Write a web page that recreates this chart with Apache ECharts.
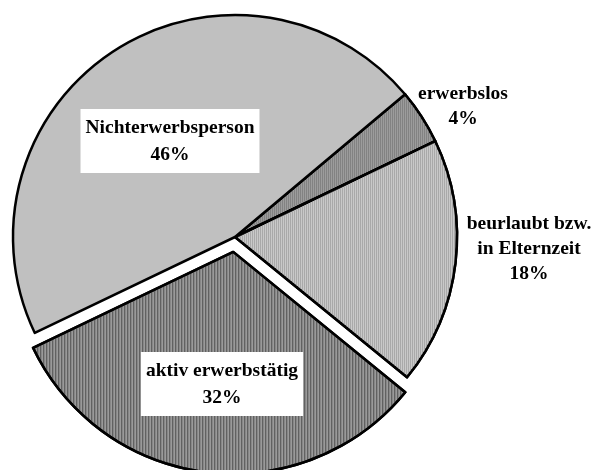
<!DOCTYPE html>
<html>
<head>
<meta charset="utf-8">
<script src="https://cdn.jsdelivr.net/npm/echarts@6/dist/echarts.min.js"></script>
<style>
  html, body { margin: 0; padding: 0; background: #fff; }
  #chart { width: 592px; height: 470px; }
</style>
</head>
<body>
<div id="chart"></div>
<script>
// slices in clockwise order, starting at the upper right
const categories = ["erwerbslos", "beurlaubt bzw.\nin Elternzeit", "aktiv erwerbstätig", "Nichterwerbsperson"];
const shares = [4, 18, 32, 46];

// look of each slice (same order as above)
const fills = ["#9c9c9c", "#c9c9c9", "#9a9a9a", "#c0c0c0"];
const stripes = ["#828282", "#a9a9a9", "#4e4e4e", null];
const stripeGap = [1, 1, 2, 0];
// label block centres and whether the label sits in a white box
const labelPos = [[463, 106], [529, 249], [222, 384], [170, 141]];
const boxed = [false, false, true, true];

const chart = echarts.init(document.getElementById("chart"));

// the slices themselves (aktiv erwerbstätig pulled out)
const sliceData = categories.map(function (name, i) {
  const item = {
    name: name,
    value: shares[i],
    selected: i === 2,
    itemStyle: { color: fills[i] }
  };
  if (stripes[i]) {
    item.itemStyle.decal = {
      symbol: "rect",
      symbolSize: 1,
      dashArrayX: [1, stripeGap[i]],
      dashArrayY: [4, 0],
      color: stripes[i]
    };
  }
  return item;
});

// same data again, invisible, only to carry the labels
const labelData = categories.map(function (name, i) {
  return {
    name: name,
    value: shares[i],
    label: boxed[i]
      ? { backgroundColor: "#fff", padding: [5, 5], lineHeight: 27 }
      : { lineHeight: 25 }
  };
});

const common = {
  type: "pie",
  center: [235, 237],
  radius: 222,
  startAngle: 40,
  clockwise: true,
  avoidLabelOverlap: false,
  emphasis: { disabled: true },
  labelLine: { show: false }
};

const option = {
  animation: false,
  series: [
    Object.assign({}, common, {
      selectedMode: "single",
      selectedOffset: 15,
      itemStyle: { borderColor: "#000", borderWidth: 2.5 },
      label: { show: false },
      data: sliceData
    }),
    Object.assign({}, common, {
      silent: true,
      z: 5,
      itemStyle: { color: "rgba(0,0,0,0)", borderWidth: 0 },
      label: {
        show: true,
        position: "inside",
        formatter: "{b}\n{d}%",
        color: "#000",
        fontFamily: "Liberation Serif",
        fontWeight: "bold",
        fontSize: 19.5,
        align: "center"
      },
      labelLayout: function (params) {
        const p = labelPos[params.dataIndex];
        return { x: p[0], y: p[1], align: "center", verticalAlign: "middle" };
      },
      data: labelData
    })
  ]
};

chart.setOption(option);
</script>
</body>
</html>
